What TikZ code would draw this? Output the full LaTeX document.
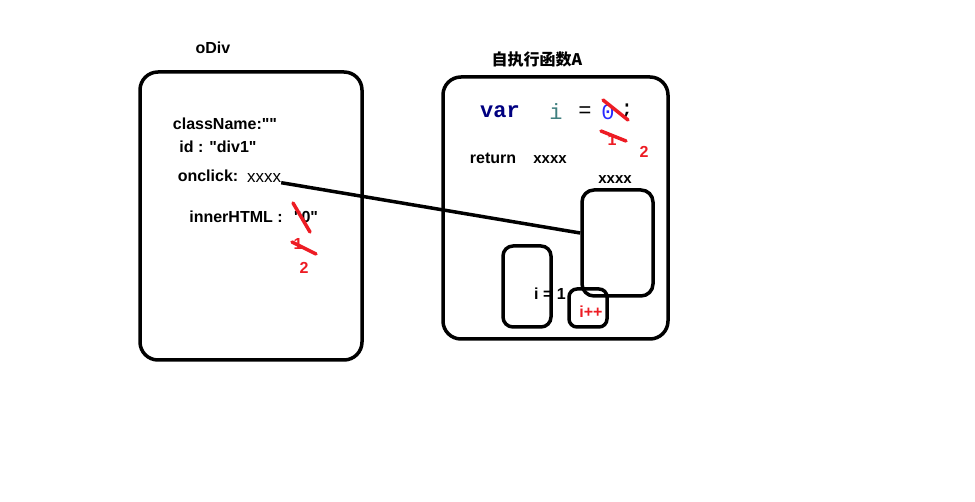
\documentclass[tikz,border=0pt]{standalone}
\usepackage{fontspec}
\setmainfont{Liberation Sans}[Ligatures=TeXOff]
\setmonofont{Liberation Mono}
\newfontfamily\cjk{Noto Sans CJK SC}
\usepackage{tikz}
\definecolor{paintred}{RGB}{237,28,36}
\definecolor{varblue}{RGB}{0,0,128}
\definecolor{iteal}{RGB}{64,128,128}
\definecolor{zeroblue}{RGB}{40,40,255}
\tikzset{
  txt/.style={font=\fontsize{16}{18}\selectfont\bfseries, inner sep=0pt},
  redtxt/.style={txt, text=paintred},
  code/.style={font=\fontsize{22}{24}\selectfont\ttfamily, inner sep=0pt},
  box/.style={draw, line width=3.5pt, rounded corners=#1, inner sep=0pt},
  box/.default=16pt,
  strike/.style={draw=paintred, line width=3.5pt, line cap=round},
  link/.style={draw, line width=3.5pt}
}

\begin{document}
\begin{tikzpicture}[x=1pt,y=-1pt]
 \useasboundingbox (0,0) rectangle (975,502);

 \draw (213,48) node[txt] (odiv) {oDiv};
 \draw (251,216) node[box=18pt, minimum width=222pt, minimum height=288pt] (divbox) {};
   \draw (225,124) node[txt] (classname) {className:""};
   \draw (218,147) node[txt] (id) {id : "div1"};
   \draw (208,176) node[txt] (onclick) {onclick:};
   \draw (264,178) node[txt, font=\fontsize{17}{19}\selectfont] (xx) {xxxx};
   \draw (236,217) node[txt] (inner) {innerHTML :};
   \draw (306,217) node[txt] (html) {"0"};
   \draw (298,244) node[redtxt] (hone) {1};
   \draw (304,268) node[redtxt] (htwo) {2};

 \draw (537,59) node[txt, font=\cjk\fontsize{16}{18}\selectfont\bfseries] (fn) {自执行函数A};
 \draw (555.5,208) node[box=18pt, minimum width=225pt, minimum height=262pt] (fnbox) {};
   \draw (500,112) node[code, text=varblue, font=\fontsize{22}{24}\selectfont\ttfamily\bfseries] (var) {var};
   \draw (556,112) node[code, text=iteal] (vari) {i};
   \draw (585,112) node[code] (eq) {=};
   \draw (608,112) node[code, text=zeroblue] (zero) {0};
   \draw (627,112) node[code] (semi) {;};
   \draw (612,140) node[redtxt] (one) {1};
   \draw (644,152) node[redtxt] (two) {2};
   \draw (493,158) node[txt] (ret) {return};
   \draw (550,160) node[txt, font=\fontsize{15}{17}\selectfont\bfseries] (retx) {xxxx};
   \draw (615,180) node[txt, font=\fontsize{15}{17}\selectfont\bfseries] (closx) {xxxx};
   \draw (617.5,243) node[box=12pt, minimum width=71pt, minimum height=106pt] (clos) {};
   \draw (527,286.5) node[box=10pt, minimum width=48pt, minimum height=81pt] (scope) {};
   \draw (588,308) node[box=8pt, minimum width=38pt, minimum height=38pt] (inc) {};
   \draw (550,294) node[txt] (ione) {i = 1};
   \draw (591,312) node[redtxt] (iplus) {i++};

 \path[link] (xx.south east) -- (clos.165);

 \draw[strike] (293,203) -- (310,232);
 \draw[strike] (292,242) -- (316,254);
 \draw[strike] (603,100) -- (628,120);
 \draw[strike] (601,131) -- (626,141);
\end{tikzpicture}
\end{document}
